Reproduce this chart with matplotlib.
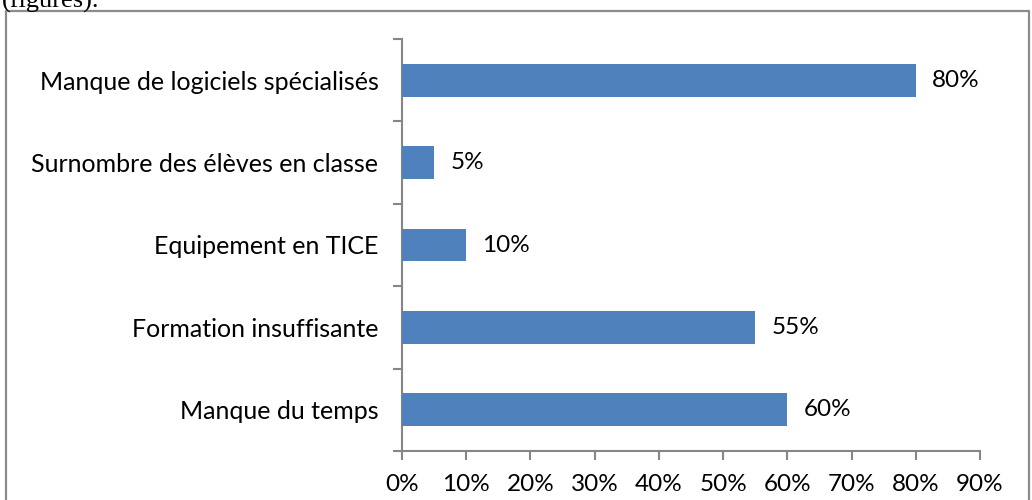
import matplotlib
matplotlib.use("Agg")
import matplotlib.pyplot as plt
from matplotlib.patches import Rectangle
from matplotlib.ticker import FuncFormatter, FixedLocator

categories = ["Manque du temps", "Formation insuffisante", "Equipement en TICE",
              "Surnombre des élèves en classe", "Manque de logiciels spécialisés"]
values = [60, 55, 10, 5, 80]
xticks = [0, 10, 20, 30, 40, 50, 60, 70, 80, 90]

W, H = 1032, 500
fig = plt.figure(figsize=(W / 100, H / 100), dpi=100)
plt.rcParams['font.family'] = ['Lato', 'DejaVu Sans']

ax = fig.add_axes([402 / W, 1 - 451 / H, (980 - 402) / W, (451 - 39) / H])
bar_color = "#4F81BD"
ys = list(range(len(categories)))
ax.barh(ys, values, height=0.4, color=bar_color, zorder=3)
for y, v in zip(ys, values):
    ax.text(v + 2.5, y, f"{v}%", va="center", ha="left", fontsize=17.5, color="black")

ax.set_xlim(0, 90)
ax.set_ylim(-0.5, len(categories) - 0.5)
ax.xaxis.set_major_locator(FixedLocator(xticks))
ax.xaxis.set_major_formatter(FuncFormatter(lambda x, p: f"{int(round(x))}%"))
ax.set_yticks(ys)
ax.set_yticklabels(categories)
ax.set_yticks([i - 0.5 for i in range(len(categories) + 1)], minor=True)

axis_color = "#868686"
for s in ["top", "right"]:
    ax.spines[s].set_visible(False)
for s in ["left", "bottom"]:
    ax.spines[s].set_color(axis_color)
    ax.spines[s].set_linewidth(1.5)
ax.tick_params(axis="y", which="major", length=0, pad=17, labelsize=18, labelcolor="black")
ax.tick_params(axis="y", which="minor", length=6.5, width=1.5, color=axis_color, direction="out")
ax.tick_params(axis="x", which="major", length=6.5, width=1.5, color=axis_color,
               direction="out", pad=10, labelsize=17.5, labelcolor="black")

# outer chart border (extends beyond bottom of image)
fig.patches.append(Rectangle((5.5 / W, -0.05), (1028.5 - 5.5) / W, 1.05 - 11.5 / H,
                             transform=fig.transFigure, fill=False,
                             edgecolor="#8c8c8c", linewidth=1.6))
fig.text(2 / W, 1 - 8 / H, "(figures).", family="Liberation Serif", fontsize=19,
         va="baseline", ha="left", color="black")

fig.savefig("out.png", dpi=100)
